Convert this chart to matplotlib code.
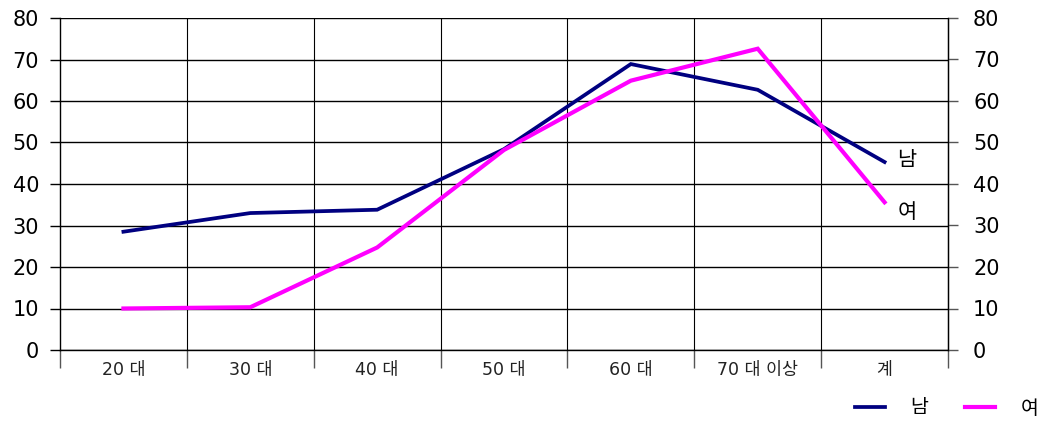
import matplotlib
matplotlib.use("Agg")
import matplotlib.pyplot as plt
from matplotlib.lines import Line2D
import numpy as np

plt.rcParams['font.family'] = ['DejaVu Sans', 'Noto Sans CJK KR']

categories = ["20 대", "30 대", "40 대", "50 대", "60 대", "70 대 이상", "계"]
male = [28.5, 33.0, 33.8, 48.4, 68.9, 62.7, 45.3]
female = [10.0, 10.3, 24.7, 48.2, 64.9, 72.6, 35.6]
yticks = [0, 10, 20, 30, 40, 50, 60, 70, 80]

fig = plt.figure(figsize=(10.39, 4.21), dpi=100)
ax = fig.add_axes([60/1039, 71/421, 888/1039, 332/421])
x = np.arange(len(categories))

ax.set_xlim(-0.5, len(categories) - 0.5)
ax.set_ylim(0, 80)

# grid
for yv in yticks:
    ax.axhline(yv, color='black', lw=1.0, zorder=1)
for b in np.arange(0.5, len(categories) - 0.5, 1):
    ax.axvline(b, color='black', lw=0.8, zorder=1)

navy = '#000080'
mag = '#FF00FF'
ax.plot(x, male, color=navy, lw=2.7, zorder=3, solid_joinstyle='miter')
ax.plot(x, female, color=mag, lw=3.0, zorder=3, solid_joinstyle='miter')

ax.text(len(categories) - 1 + 0.1, male[-1] + 0.5, "남", fontsize=15,
        va='center', ha='left', family='Noto Sans CJK KR')
ax.text(len(categories) - 1 + 0.1, female[-1] - 2.3, "여", fontsize=15,
        va='center', ha='left', family='Noto Sans CJK KR')

ax.spines['top'].set_visible(False)
for s in ['left', 'right', 'bottom']:
    ax.spines[s].set_linewidth(1.0)

ax.set_yticks(yticks)
ax.set_yticklabels([str(v) for v in yticks], fontsize=15)
ax.tick_params(axis='y', direction='out', length=7, width=1, pad=8)

ax.set_xticks(x)
ax.set_xticklabels(categories, fontsize=12.5, color='#222222')
ax.tick_params(axis='x', which='major', length=0, pad=8)
ax.set_xticks(np.arange(-0.5, len(categories), 1), minor=True)
ax.tick_params(axis='x', which='minor', direction='out', length=13, width=1, color='#555555')

ax2 = ax.twinx()
ax2.set_ylim(0, 80)
ax2.set_yticks(yticks)
ax2.set_yticklabels([str(v) for v in yticks], fontsize=15)
ax2.tick_params(axis='y', direction='out', length=7, width=1, pad=11, color='#555555')
for s in ['top', 'left', 'bottom']:
    ax2.spines[s].set_visible(False)

handles = [Line2D([0], [0], color=navy, lw=2.7), Line2D([0], [0], color=mag, lw=3.0)]
leg = fig.legend(handles, ["남", "여"], loc='center left', bbox_to_anchor=(855/1039, 13/421), ncol=2,
                 frameon=False, handlelength=1.55, columnspacing=1.9, handletextpad=1.3,
                 borderpad=0, borderaxespad=0,
                 prop={'family': 'Noto Sans CJK KR', 'size': 14})

fig.savefig("out.png", dpi=100, facecolor='white')
